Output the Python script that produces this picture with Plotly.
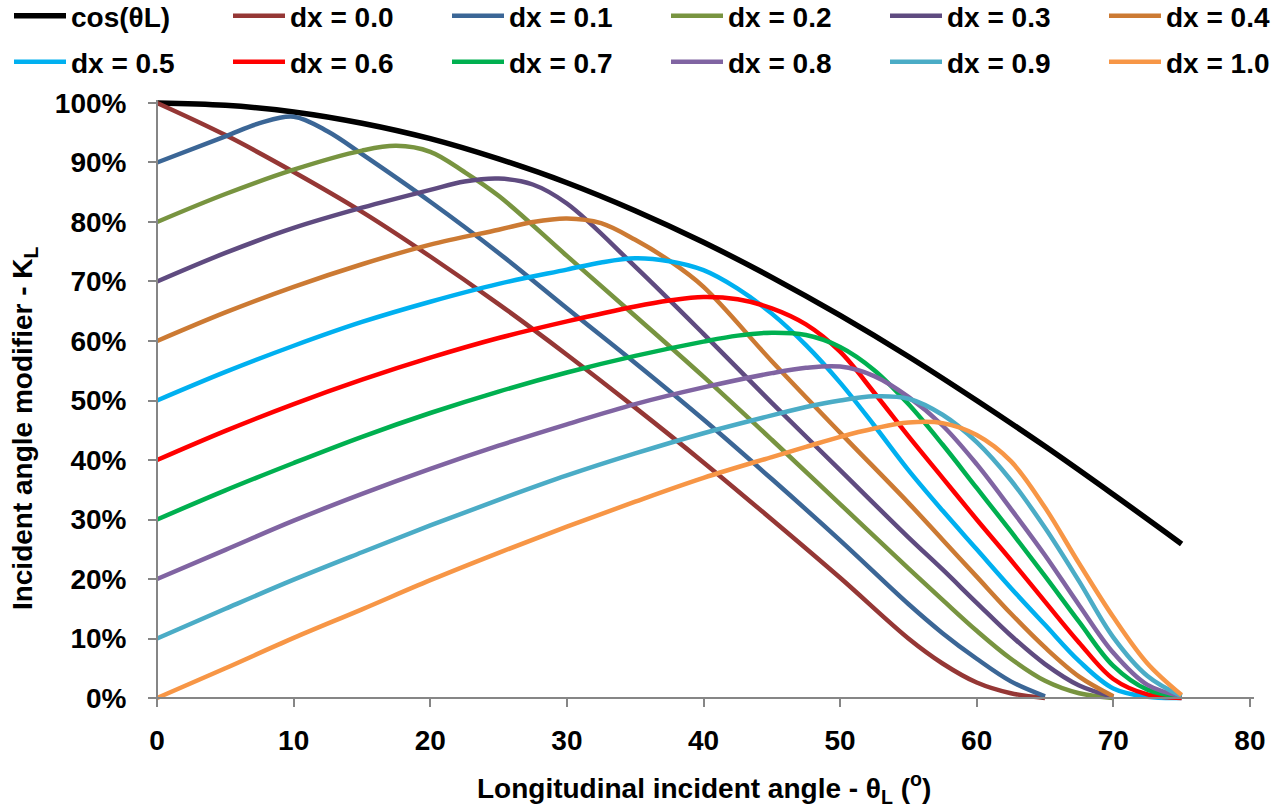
import plotly.graph_objects as go

# ---------------- data ----------------
theta_cos = [0, 5, 10, 15, 20, 25, 30, 35, 40, 45, 50, 55, 60, 65, 70, 75]
k_cos = [100, 99.6, 98.5, 96.6, 94.0, 90.6, 86.6, 81.9, 76.6, 70.7, 64.3, 57.4, 50.0, 42.3, 34.2, 25.9]

theta_dx00 = [0, 5, 10, 15, 20, 25, 30, 35, 40, 45, 50, 55, 57.5, 60, 62.5, 65]
k_dx00 = [100, 94.6, 88.4, 81.7, 74.2, 66.2, 57.7, 48.8, 39.6, 30.0, 20.2, 10.0, 5.8, 2.6, 0.8, 0.0]

theta_dx01 = [0, 5, 7.5, 10, 12.5, 15, 20, 25, 30, 35, 40, 45, 50, 55, 57.5, 60, 62.5, 65]
k_dx01 = [90.0, 94.4, 96.6, 97.7, 95.2, 91.4, 83.4, 74.8, 65.5, 56.3, 46.8, 36.8, 26.5, 15.8, 10.9, 6.6, 2.8, 0.3]

theta_dx02 = [0, 5, 10, 15, 17.5, 20, 22.5, 25, 30, 35, 40, 45, 50, 55, 57.5, 60, 62.5, 65, 67.5, 70]
k_dx02 = [80.0, 84.7, 88.8, 92.0, 92.8, 91.8, 88.4, 84.4, 74.3, 64.2, 54.0, 43.4, 32.6, 21.8, 16.5, 11.3, 6.6, 2.9, 0.8, 0.0]

theta_dx03 = [0, 5, 10, 15, 20, 22.5, 25, 27.5, 30, 35, 40, 45, 50, 55, 57.5, 60, 62.5, 65, 67.5, 70]
k_dx03 = [70.0, 74.8, 79.0, 82.4, 85.4, 86.8, 87.3, 86.3, 83.1, 72.5, 61.2, 49.6, 38.3, 27.0, 21.6, 16.0, 10.5, 5.7, 2.1, 0.2]

theta_dx04 = [0, 5, 10, 15, 20, 25, 27.5, 30, 32.5, 35, 37.5, 40, 45, 50, 55, 57.5, 60, 62.5, 65, 67.5, 70]
k_dx04 = [60.0, 64.8, 69.1, 72.9, 76.2, 78.7, 80.0, 80.6, 79.8, 77.0, 73.5, 69.1, 56.6, 44.6, 32.8, 26.6, 20.4, 14.2, 8.5, 3.6, 0.3]

theta_dx05 = [0, 5, 10, 15, 20, 25, 30, 32.5, 35, 37.5, 40, 42.5, 45, 47.5, 50, 52.5, 55, 57.5, 60, 62.5, 65, 67.5, 70, 72.5, 75]
k_dx05 = [50.0, 54.8, 59.2, 63.2, 66.6, 69.6, 72.0, 73.2, 73.9, 73.4, 71.9, 68.8, 64.6, 59.3, 53.0, 45.8, 38.3, 31.5, 25.0, 18.5, 12.3, 6.2, 1.6, 0.2, 0.0]

theta_dx06 = [0, 5, 10, 15, 20, 25, 30, 35, 37.5, 40, 42.5, 45, 47.5, 50, 52.5, 55, 57.5, 60, 62.5, 65, 67.5, 70, 72.5, 75]
k_dx06 = [40.0, 44.9, 49.4, 53.5, 57.2, 60.5, 63.3, 65.8, 66.8, 67.4, 67.0, 65.5, 62.8, 58.2, 51.3, 44.0, 37.0, 30.0, 23.2, 16.2, 9.3, 3.2, 0.6, 0.0]

theta_dx07 = [0, 5, 10, 15, 20, 25, 30, 35, 40, 42.5, 45, 47.5, 50, 52.5, 55, 57.5, 60, 62.5, 65, 67.5, 70, 72.5, 75]
k_dx07 = [30.0, 34.9, 39.5, 43.9, 47.9, 51.5, 54.7, 57.5, 59.9, 60.9, 61.4, 61.0, 59.0, 55.1, 49.4, 42.6, 35.3, 28.0, 20.5, 12.8, 5.4, 1.4, 0.2]

theta_dx08 = [0, 5, 10, 15, 20, 25, 30, 35, 40, 45, 47.5, 50, 52.5, 55, 57.5, 60, 62.5, 65, 67.5, 70, 72.5, 75]
k_dx08 = [20.0, 24.9, 29.8, 34.3, 38.5, 42.4, 46.0, 49.4, 52.2, 54.6, 55.5, 55.7, 54.1, 50.6, 45.8, 39.3, 31.8, 24.0, 15.6, 7.6, 2.2, 0.3]

theta_dx09 = [0, 5, 10, 15, 20, 25, 30, 35, 40, 45, 47.5, 50, 52.5, 55, 57.5, 60, 62.5, 65, 67.5, 70, 72.5, 75]
k_dx09 = [10.0, 15.0, 19.9, 24.5, 29.0, 33.3, 37.4, 41.1, 44.5, 47.5, 48.9, 50.0, 50.7, 50.3, 47.6, 43.0, 36.6, 28.6, 19.6, 10.2, 3.7, 0.3]

theta_dx10 = [0, 5, 10, 15, 20, 25, 30, 35, 40, 45, 47.5, 50, 52.5, 55, 57.5, 60, 62.5, 65, 67.5, 70, 72.5, 75]
k_dx10 = [0.0, 5.0, 10.1, 14.9, 19.8, 24.4, 28.8, 33.0, 37.0, 40.5, 42.2, 43.9, 45.3, 46.3, 46.2, 44.2, 39.8, 32.0, 22.6, 13.6, 5.8, 0.5]

x_ticks = [0, 10, 20, 30, 40, 50, 60, 70, 80]
y_ticks = [0, 10, 20, 30, 40, 50, 60, 70, 80, 90, 100]
y_tick_text = ["0%", "10%", "20%", "30%", "40%", "50%", "60%", "70%", "80%", "90%", "100%"]

series_names = ["cos(θL)", "dx = 0.0", "dx = 0.1", "dx = 0.2", "dx = 0.3", "dx = 0.4",
                "dx = 0.5", "dx = 0.6", "dx = 0.7", "dx = 0.8", "dx = 0.9", "dx = 1.0"]
series_x = [theta_cos, theta_dx00, theta_dx01, theta_dx02, theta_dx03, theta_dx04,
            theta_dx05, theta_dx06, theta_dx07, theta_dx08, theta_dx09, theta_dx10]
series_y = [k_cos, k_dx00, k_dx01, k_dx02, k_dx03, k_dx04,
            k_dx05, k_dx06, k_dx07, k_dx08, k_dx09, k_dx10]

# ---------------- styles ----------------
colors = ["#000000", "#953735", "#3B6696", "#789440", "#5F4B80", "#CC7A33",
          "#00B0F0", "#FF0000", "#00B050", "#8064A2", "#4BACC6", "#F79646"]
widths = [5.5] + [4.5] * 11
legend_ids = ["legend"] * 3 + ["legend2"] * 3 + ["legend3"] * 3 + ["legend4"] * 3
FONT = "Liberation Sans, Arial, sans-serif"
AXIS_GREY = "#868686"

fig = go.Figure()
for i, (name, xs, ys) in enumerate(zip(series_names, series_x, series_y)):
    fig.add_trace(go.Scatter(
        x=xs, y=ys, name=name, mode="lines",
        line=dict(color=colors[i], width=widths[i], shape="spline", smoothing=1.0),
        legend=legend_ids[i],
        hoverinfo="skip",
    ))

W, H = 1288, 807
x_lo, x_hi = -0.3, 80.3
y_lo, y_hi = -0.5, 100.5
ML, MR, MT, MB = 152.9, 33.9, 99.6, 105.6
PITCH = 219
legend_common = dict(
    orientation="h", xref="container", yref="container",
    xanchor="left", yanchor="middle",
    font=dict(family=FONT, size=28, color="#000000", weight="bold"),
    entrywidth=PITCH - 67, entrywidthmode="pixels", itemwidth=52,
    bgcolor="rgba(0,0,0,0)", borderwidth=0,
    traceorder="normal", itemclick=False, itemdoubleclick=False,
)
x_left = 9 / W
x_mid = (9 + 3 * PITCH) / W
y_row1 = 1 - 16 / H
y_row2 = 1 - 62 / H

fig.update_layout(
    width=W, height=H,
    paper_bgcolor="white", plot_bgcolor="white",
    margin=dict(l=ML, r=MR, t=MT, b=MB, pad=0, autoexpand=False),
    font=dict(family=FONT, size=28, color="#000000", weight="bold"),
    legend=dict(**legend_common, x=x_left, y=y_row1),
    legend2=dict(**legend_common, x=x_mid, y=y_row1),
    legend3=dict(**legend_common, x=x_left, y=y_row2),
    legend4=dict(**legend_common, x=x_mid, y=y_row2),
    xaxis=dict(
        range=[x_lo, x_hi], tickmode="array", tickvals=x_ticks,
        showline=True, linecolor=AXIS_GREY, linewidth=2,
        ticks="outside", ticklen=8, tickwidth=2, tickcolor=AXIS_GREY,
        showgrid=False, zeroline=False,
        anchor="free", position=(0 - y_lo) / (y_hi - y_lo),
        tickfont=dict(family=FONT, size=28, color="#000000", weight="bold"),
        ticklabelstandoff=9,
    ),
    yaxis=dict(
        range=[y_lo, y_hi], tickmode="array", tickvals=y_ticks, ticktext=y_tick_text,
        showline=True, linecolor=AXIS_GREY, linewidth=2,
        ticks="outside", ticklen=8, tickwidth=2, tickcolor=AXIS_GREY,
        showgrid=False, zeroline=False,
        anchor="free", position=(0 - x_lo) / (x_hi - x_lo),
        tickfont=dict(family=FONT, size=28, color="#000000", weight="bold"),
        ticklabelstandoff=16,
    ),
    annotations=[
        dict(text="Incident angle modifier - K<sub>L</sub>", xref="paper", yref="paper",
             x=(25 - ML) / (W - ML - MR), y=(H - MB - 428) / (H - MT - MB), textangle=-90,
             xanchor="center", yanchor="middle", showarrow=False,
             font=dict(family=FONT, size=28, color="#000000", weight="bold")),
        dict(text="Longitudinal incident angle - θ<sub>L</sub> (<sup>o</sup>)", xref="paper", yref="paper",
             x=0.5, y=(H - MB - 789) / (H - MT - MB),
             xanchor="center", yanchor="middle", showarrow=False,
             font=dict(family=FONT, size=28, color="#000000", weight="bold")),
    ],
    showlegend=True,
)

fig.write_html("out.html")
